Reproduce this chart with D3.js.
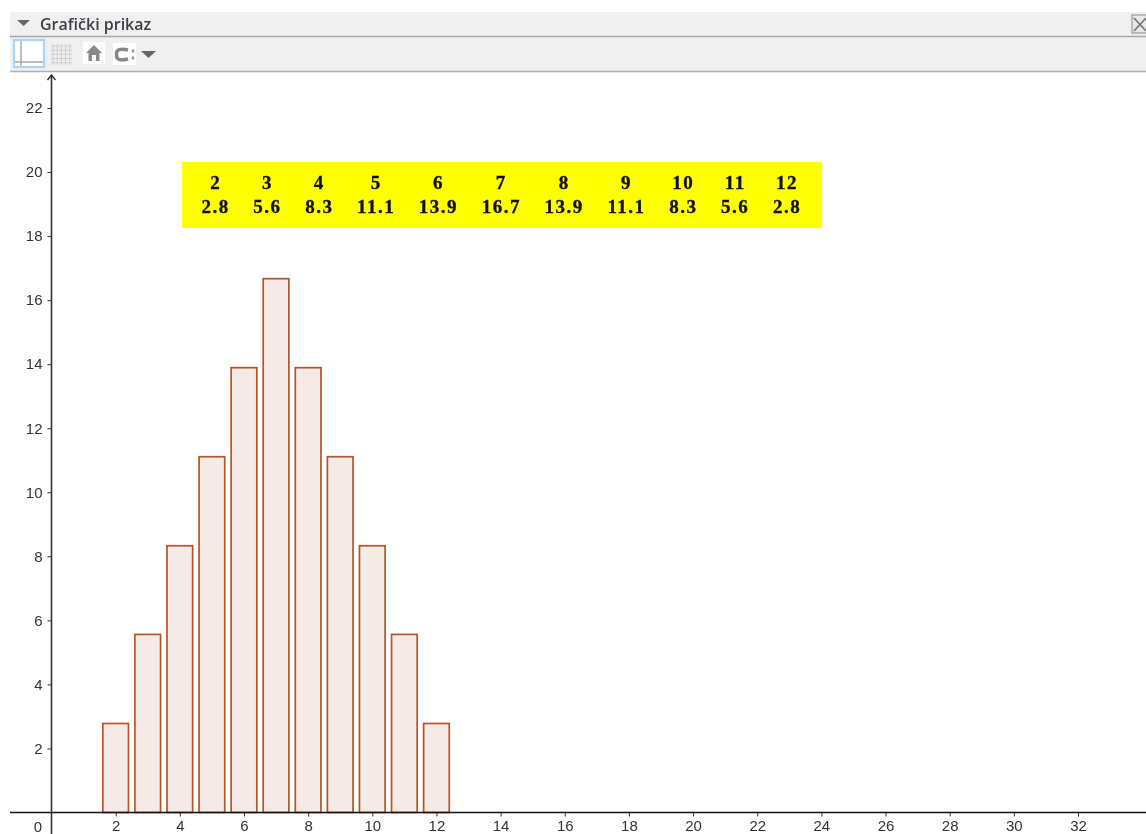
<!DOCTYPE html>
<html>
<head>
<meta charset="utf-8">
<title>Grafički prikaz</title>
<script src="https://cdn.jsdelivr.net/npm/d3@7"></script>
<style>
  html, body { margin: 0; padding: 0; background: #fff; overflow: hidden; }
  svg { display: block; filter: blur(0.35px); }
</style>
</head>
<body>
<div id="chart"></div>
<script>
const sums = [2, 3, 4, 5, 6, 7, 8, 9, 10, 11, 12];
const percents = [2.78, 5.56, 8.33, 11.11, 13.89, 16.67, 13.89, 11.11, 8.33, 5.56, 2.78];
const tableTop = ["2", "3", "4", "5", "6", "7", "8", "9", "10", "11", "12"];
const tableBottom = ["2.8", "5.6", "8.3", "11.1", "13.9", "16.7", "13.9", "11.1", "8.3", "5.6", "2.8"];
const xTicks = d3.range(2, 33, 2);
const yTicks = d3.range(2, 23, 2);

const W = 1146, H = 834;
const svg = d3.select("#chart").append("svg").attr("width", W).attr("height", H);

const x = d3.scaleLinear().domain([0, 32]).range([51.5, 1078]);
const y = d3.scaleLinear().domain([0, 22]).range([812.5, 108]);
const barW = x(0.8) - x(0);

/* Bars */
const bars = svg.append("g");
bars.selectAll("rect").data(percents).enter().append("rect")
  .attr("x", (d, i) => x(sums[i]) - barW / 2)
  .attr("y", d => y(d))
  .attr("width", barW)
  .attr("height", d => y(0) - y(d))
  .attr("fill", "#f4ebe6")
  .attr("stroke", "#b5542a")
  .attr("stroke-width", 1.7);

/* Axes */
const xAxis = svg.append("g").attr("transform", `translate(0,${y(0)})`)
  .call(d3.axisBottom(x).tickValues(xTicks).tickSize(4).tickPadding(4));
const yAxis = svg.append("g").attr("transform", `translate(${x(0)},0)`)
  .call(d3.axisLeft(y).tickValues(yTicks).tickSize(4).tickPadding(5));
[xAxis, yAxis].forEach(a => {
  a.select(".domain").remove();
  a.selectAll("line").attr("stroke", "#333");
  a.selectAll("text").style("font-family", "'Liberation Sans', sans-serif")
    .style("font-size", "15px").style("fill", "#333");
});

svg.append("line").attr("x1", 10).attr("x2", W).attr("y1", y(0)).attr("y2", y(0))
  .attr("stroke", "#111").attr("stroke-width", 1.4);
svg.append("line").attr("x1", x(0)).attr("x2", x(0)).attr("y1", 75).attr("y2", H)
  .attr("stroke", "#333").attr("stroke-width", 1.6);
svg.append("path").attr("d", `M${x(0) - 4},80 L${x(0)},75 L${x(0) + 4},80`)
  .attr("fill", "none").attr("stroke", "#222").attr("stroke-width", 1.3);
svg.append("text").attr("x", 38).attr("y", 831.5).attr("text-anchor", "middle")
  .style("font-family", "'Liberation Sans', sans-serif").style("font-size", "15px")
  .style("fill", "#333").text("0");

/* Yellow value table, columns sized from the text */
svg.append("rect").attr("x", 182).attr("y", 162).attr("width", 640).attr("height", 66).attr("fill", "#ffff00");
const cellStyle = sel => sel
  .attr("text-anchor", "middle")
  .style("font-family", "'Liberation Serif', serif").style("font-weight", "bold")
  .style("font-size", "19px").style("letter-spacing", "1.5px")
  .style("fill", "#111").style("stroke", "#111").style("stroke-width", "0.35px");
const topCells = svg.append("g").selectAll("text").data(tableTop).enter().append("text")
  .attr("y", 188.7).call(cellStyle).text(d => d);
const bottomCells = svg.append("g").selectAll("text").data(tableBottom).enter().append("text")
  .attr("y", 212.7).call(cellStyle).text(d => d);

const colGap = 23.6;
let cursor = 201.5;
const topNodes = topCells.nodes();
bottomCells.nodes().forEach((n, i) => {
  const w = Math.max(n.getComputedTextLength(), topNodes[i].getComputedTextLength());
  const cx = cursor + w / 2;
  d3.select(n).attr("x", cx);
  d3.select(topNodes[i]).attr("x", cx);
  cursor += w + colGap;
});

/* Panel header */
const panel = svg.append("g");
panel.append("rect").attr("x", 10).attr("y", 12).attr("width", W - 10).attr("height", 59).attr("fill", "#f0f0f0");
panel.append("line").attr("x1", 10).attr("x2", W).attr("y1", 36.5).attr("y2", 36.5).attr("stroke", "#a8a8a8").attr("stroke-width", 1.5);
panel.append("line").attr("x1", 10).attr("x2", W).attr("y1", 71.5).attr("y2", 71.5).attr("stroke", "#b0b0b0").attr("stroke-width", 1.5);
panel.append("path").attr("d", "M17,20 L30,20 L23.5,26 Z").attr("fill", "#666");
panel.append("text").attr("x", 40).attr("y", 30)
  .style("font-family", "'Open Sans', sans-serif").style("font-size", "16px").style("font-weight", 600)
  .style("fill", "#3a3f4a").text("Grafički prikaz");

/* Close box */
panel.append("rect").attr("x", 1132).attr("y", 15).attr("width", 16).attr("height", 18)
  .attr("fill", "#e8e8e8").attr("stroke", "#aaa").attr("stroke-width", 1.5);
panel.append("path").attr("d", "M1134,18 L1146,31 M1146,18 L1134,31").attr("stroke", "#777").attr("stroke-width", 1.8);

/* Toolbar buttons */
panel.append("rect").attr("x", 14).attr("y", 40).attr("width", 30).attr("height", 27)
  .attr("fill", "#fff").attr("stroke", "#a8d4f8").attr("stroke-width", 2.2);
panel.append("path").attr("d", "M21,41 V66 M15,62 H43").attr("stroke", "#aaa").attr("stroke-width", 1.5).attr("fill", "none");
const gridIcon = panel.append("g").attr("stroke", "#cfcfcf");
d3.range(0, 5).forEach(i => {
  gridIcon.append("line").attr("x1", 53 + i * 4.2).attr("x2", 53 + i * 4.2).attr("y1", 44).attr("y2", 65);
  gridIcon.append("line").attr("x1", 51).attr("x2", 72).attr("y1", 46 + i * 4.2).attr("y2", 46 + i * 4.2);
});
panel.append("rect").attr("x", 83).attr("y", 42).attr("width", 22).attr("height", 22).attr("fill", "#fff");
panel.append("path").attr("d", "M94,45 L102,53 L99.5,53 L99.5,61 L96,61 L96,55 L92,55 L92,61 L88.5,61 L88.5,53 L86,53 Z").attr("fill", "#888");
panel.append("rect").attr("x", 113).attr("y", 43).attr("width", 23).attr("height", 22).attr("fill", "#fff");
panel.append("path").attr("d", "M128,50 Q116,47 116.5,54.5 Q116,62 128,59").attr("fill", "none").attr("stroke", "#888").attr("stroke-width", 3.5);
panel.append("path").attr("d", "M133,49.5 V52.5 M133,56.5 V59.5").attr("stroke", "#999").attr("stroke-width", 2.5);
panel.append("path").attr("d", "M141,51 L156,51 L148.5,58 Z").attr("fill", "#666");
</script>
</body>
</html>
